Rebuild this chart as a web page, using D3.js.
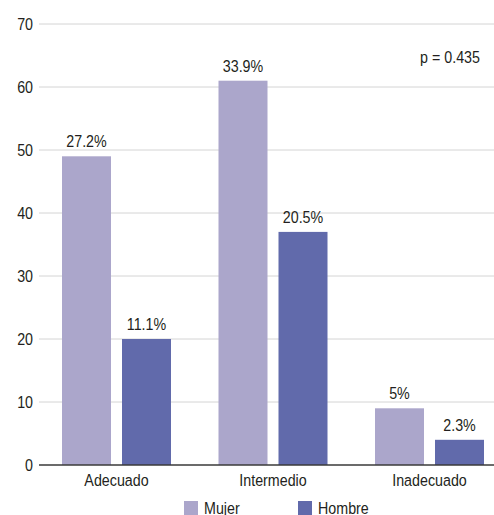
<!DOCTYPE html>
<html><head><meta charset="utf-8">
<script src="https://cdn.jsdelivr.net/npm/d3@7"></script>
<style>
body{margin:0;background:#fff;}
svg{display:block;}
text{font-family:"Liberation Sans",Arial,sans-serif;fill:#231f20;}
</style></head>
<body>
<script>
const categories = ["Adecuado","Intermedio","Inadecuado"];
const series = ["Mujer","Hombre"];
const mujerValues = [49, 61, 9];
const hombreValues = [20, 37, 4];
const mujerLabels = ["27.2%","33.9%","5%"];
const hombreLabels = ["11.1%","20.5%","2.3%"];
const yTicks = [0,10,20,30,40,50,60,70];
const pText = "p = 0.435";
const colors = {Mujer:"#aba6cb", Hombre:"#616aab"};

const W=494,H=515,FS=17,SX=0.84;
const svg=d3.select("body").append("svg").attr("width",W).attr("height",H);
const y=d3.scaleLinear().domain([0,70]).range([465,24]);
const x0=d3.scaleBand().domain(categories).range([38.25,507.75]).paddingInner(0).paddingOuter(0);
const x1=d3.scaleBand().domain(series).range([0,109]).paddingInner(11/60);
const groupOffset=(x0.bandwidth()-109)/2;

// gridlines
svg.append("g").selectAll("line").data(yTicks.filter(d=>d>0)).join("line")
  .attr("x1",39).attr("x2",W).attr("y1",d=>y(d)).attr("y2",d=>y(d))
  .attr("stroke","#d4d4d4").attr("stroke-width",1);

// y axis labels
const yAxis=d3.axisLeft(y).tickValues(yTicks).tickSize(0).tickPadding(6);
const gy=svg.append("g").attr("transform","translate(39,0)").call(yAxis);
gy.select(".domain").remove();
gy.selectAll("text").attr("font-size",FS).attr("font-family",null).attr("fill","#231f20");

const data=categories.map((c,i)=>({cat:c,vals:[
  {s:"Mujer",v:mujerValues[i],l:mujerLabels[i]},
  {s:"Hombre",v:hombreValues[i],l:hombreLabels[i]}]}));

const g=svg.append("g").selectAll("g").data(data).join("g")
  .attr("transform",d=>`translate(${x0(d.cat)+groupOffset},0)`);
g.selectAll("rect").data(d=>d.vals).join("rect")
  .attr("x",d=>x1(d.s)).attr("width",x1.bandwidth())
  .attr("y",d=>y(d.v)).attr("height",d=>y(0)-y(d.v))
  .attr("fill",d=>colors[d.s]);
g.selectAll("text.lbl").data(d=>d.vals).join("text").attr("class","lbl")
  .attr("x",d=>x1(d.s)+x1.bandwidth()/2).attr("y",d=>y(d.v)-9)
  .attr("text-anchor","middle").attr("font-size",FS).text(d=>d.l);

// baseline
svg.append("line").attr("x1",39).attr("x2",W).attr("y1",y(0)).attr("y2",y(0))
  .attr("stroke","#3a3a3a").attr("stroke-width",1.5);

// x axis labels
const xAxis=d3.axisBottom(x0).tickSize(0).tickPadding(9);
const gx=svg.append("g").attr("transform",`translate(0,${y(0)})`).call(xAxis);
gx.select(".domain").remove();
gx.selectAll("text").attr("font-size",FS).attr("font-family",null).attr("fill","#231f20");

// p value
svg.append("text").attr("x",480).attr("y",63).attr("text-anchor","end").attr("font-size",FS).text(pText);

// legend
const legX=[184,298];
const leg=svg.append("g").selectAll("g").data(series).join("g")
  .attr("transform",(d,i)=>`translate(${legX[i]},501)`);
leg.append("rect").attr("width",14).attr("height",14).attr("fill",d=>colors[d]);
leg.append("text").attr("x",20).attr("y",13).attr("font-size",FS).text(d=>d);

// condense text horizontally around its anchor x (reference uses a condensed face)
svg.selectAll("text").each(function(){
  const t=d3.select(this);
  const x=+t.attr("x")||0;
  t.attr("transform",`translate(${x},0) scale(${SX},1) translate(${-x},0)`);
});
</script>
</body></html>
